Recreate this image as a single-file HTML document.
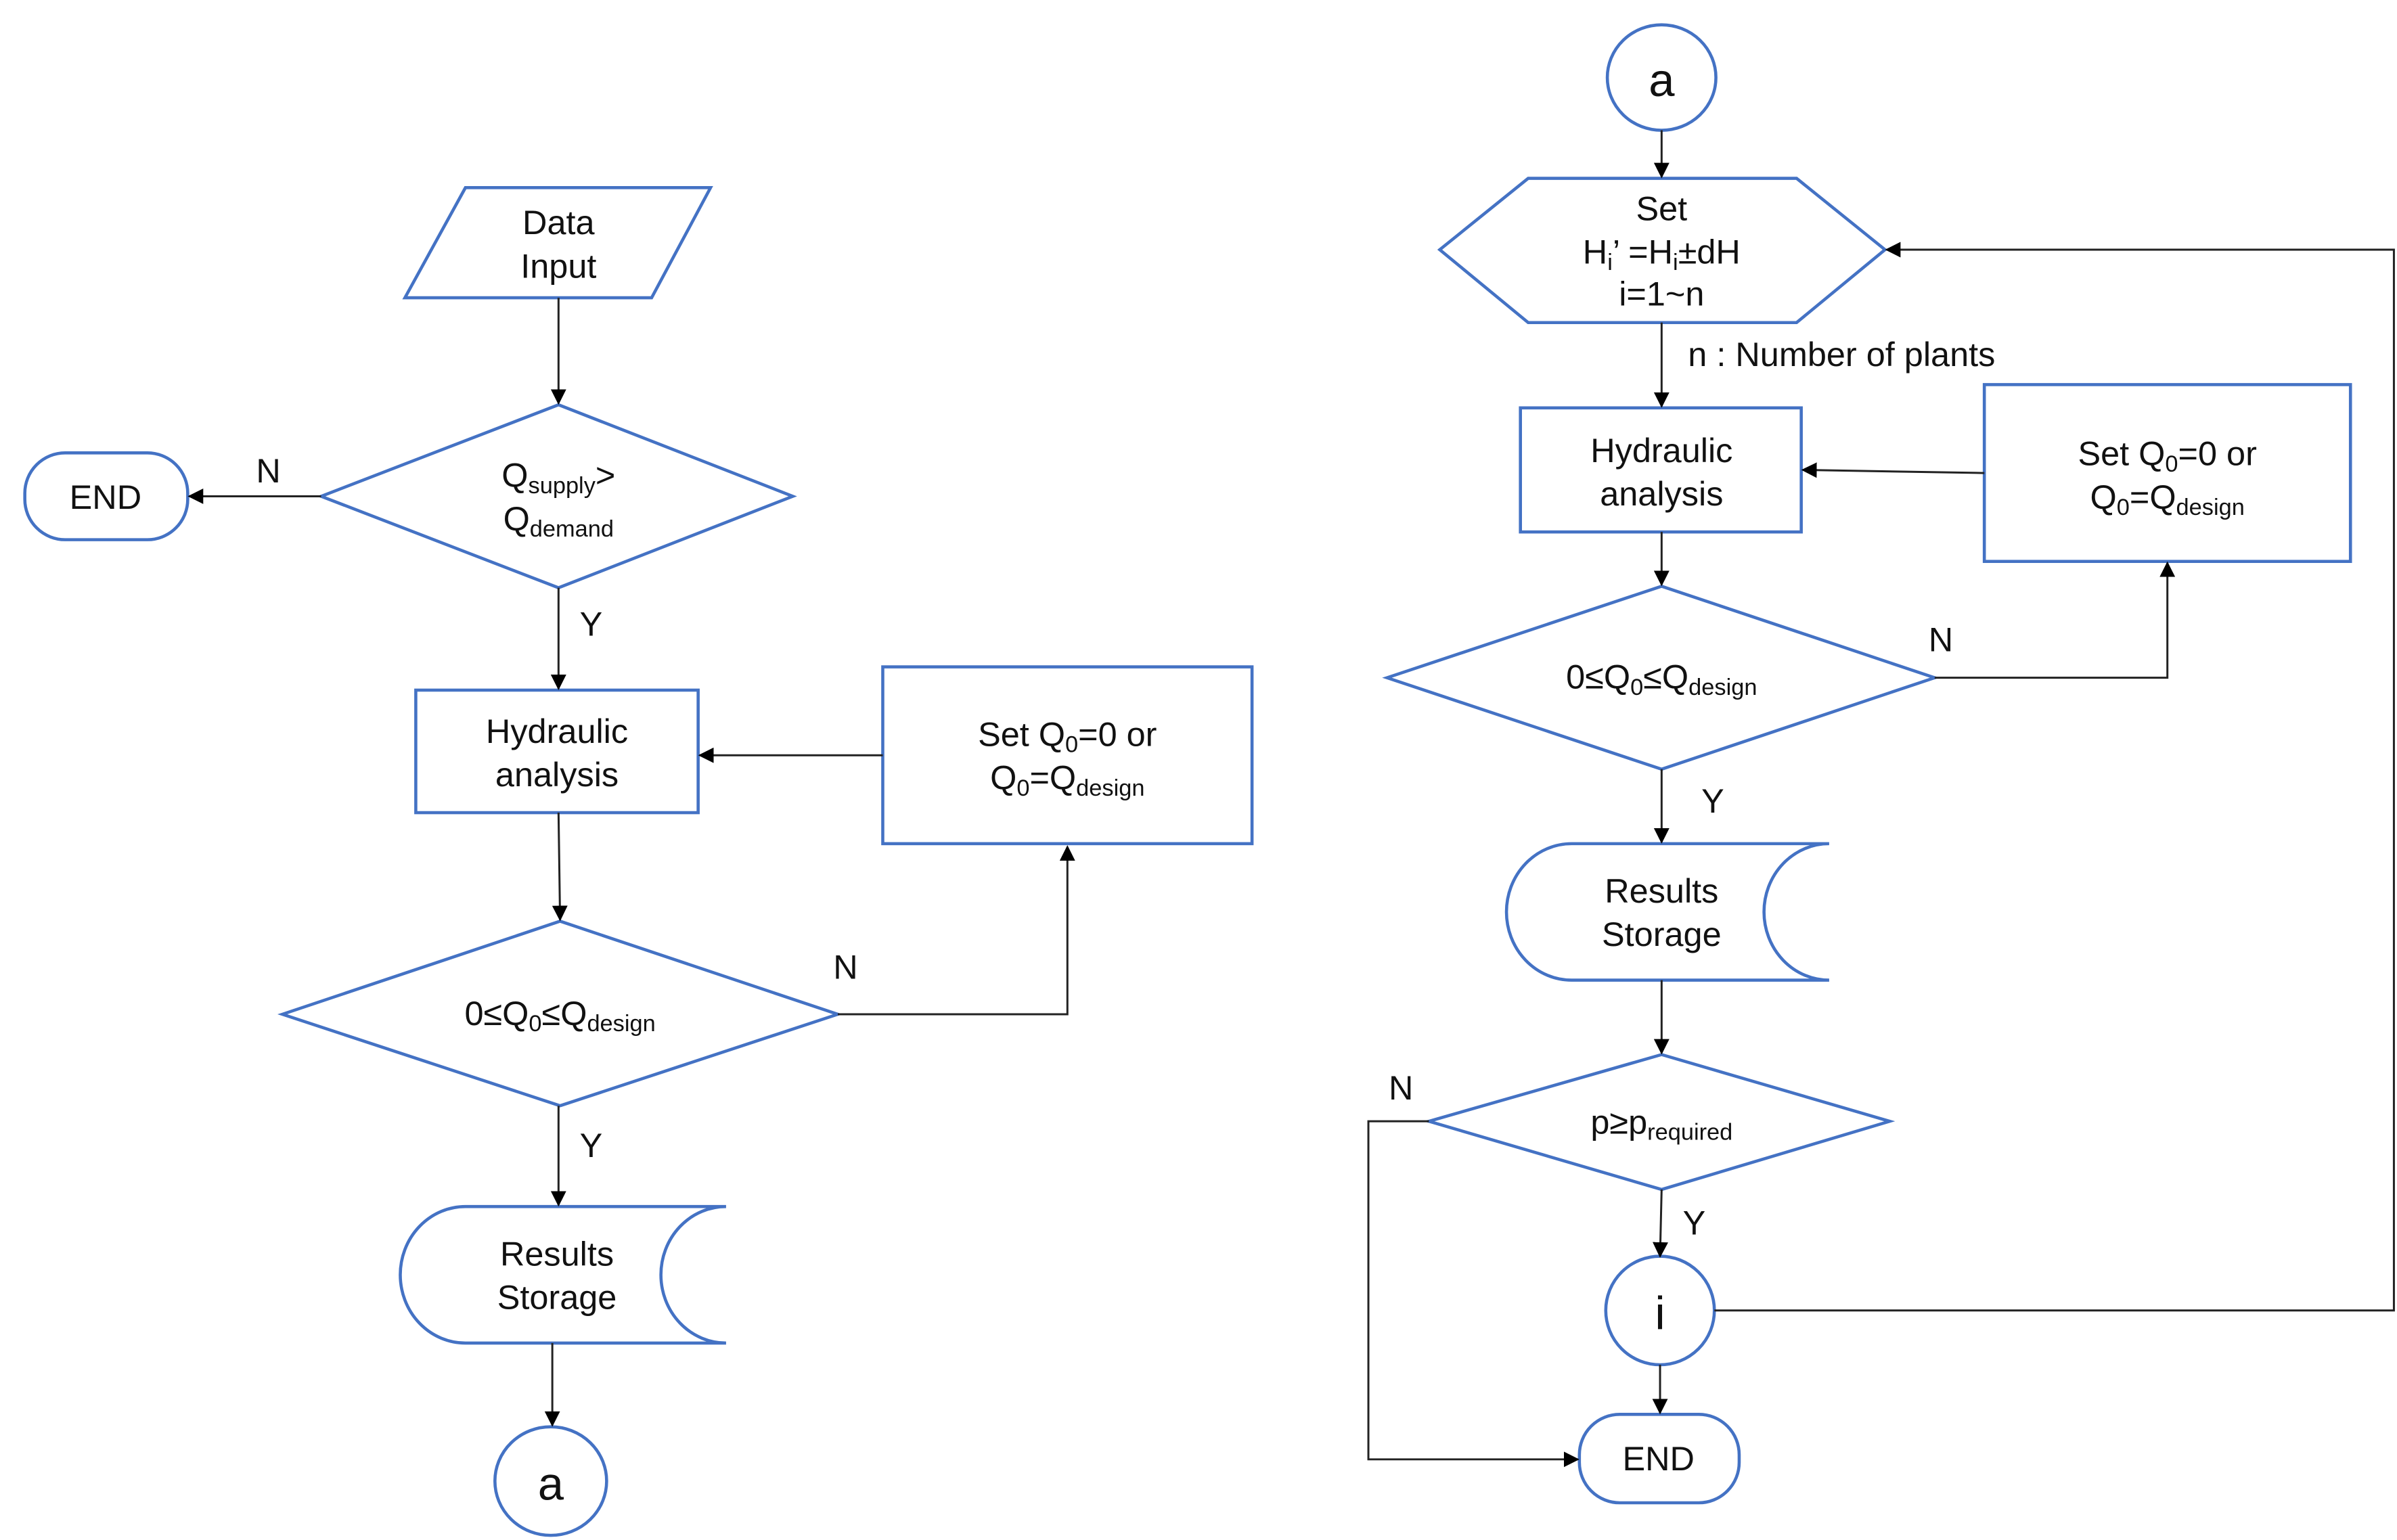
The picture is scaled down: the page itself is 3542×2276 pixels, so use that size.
<!DOCTYPE html>
<html><head><meta charset="utf-8"><style>
html,body{margin:0;padding:0;background:#fff;}
svg{display:block;}
text{font-family:"Liberation Sans","DejaVu Sans",sans-serif;fill:#111;}
</style></head><body>
<svg width="3542" height="2276" viewBox="0 0 1545 993" preserveAspectRatio="none" xmlns="http://www.w3.org/2000/svg">
<defs>
<marker id="ah" markerWidth="10" markerHeight="10" refX="9" refY="5" orient="auto" markerUnits="userSpaceOnUse">
<path d="M0,0 L10,5 L0,10 z" fill="#000"/></marker>
</defs>
<g fill="#fff" stroke="#4472C4" stroke-width="2">
<!-- Left -->
<polygon points="300,121 458,121 420,192 261,192"/>
<polygon points="207,320 360,261 511,320 360,379"/>
<rect x="16" y="292" width="105" height="56" rx="26"/>
<rect x="268" y="445" width="182" height="79"/>
<rect x="569" y="430" width="238" height="114"/>
<polygon points="182,654 361,594 540,654 361,713"/>
<path d="M300,778 H468 A42,44 0 0 0 468,866 H300 A42,44 0 0 1 300,778 Z"/>
<ellipse cx="355" cy="955" rx="36" ry="35"/>
<!-- Right -->
<ellipse cx="1071" cy="50" rx="35" ry="34"/>
<polygon points="928,161 985,115 1158,115 1215,161 1158,208 985,208"/>
<rect x="980" y="263" width="181" height="80"/>
<rect x="1279" y="248" width="236" height="114"/>
<polygon points="894,437 1071,378 1247,437 1071,496"/>
<path d="M1013,544 H1179 A42,44 0 0 0 1179,632 H1013 A42,44 0 0 1 1013,544 Z"/>
<polygon points="921,723 1071,680 1218,723 1071,767"/>
<ellipse cx="1070" cy="845" rx="35" ry="35"/>
<rect x="1018" y="912" width="103" height="57" rx="26"/>
</g>
<g fill="none" stroke="#222" stroke-width="1.3">
<line x1="360" y1="192" x2="360" y2="260" marker-end="url(#ah)"/>
<line x1="207" y1="320" x2="122" y2="320" marker-end="url(#ah)"/>
<line x1="360" y1="379" x2="360" y2="444" marker-end="url(#ah)"/>
<line x1="569" y1="487" x2="451" y2="487" marker-end="url(#ah)"/>
<line x1="360" y1="524" x2="361" y2="593" marker-end="url(#ah)"/>
<polyline points="540,654 688,654 688,546" marker-end="url(#ah)"/>
<line x1="360" y1="713" x2="360" y2="777" marker-end="url(#ah)"/>
<line x1="356" y1="866" x2="356" y2="919" marker-end="url(#ah)"/>
<line x1="1071" y1="84" x2="1071" y2="114" marker-end="url(#ah)"/>
<line x1="1071" y1="208" x2="1071" y2="262" marker-end="url(#ah)"/>
<line x1="1279" y1="305" x2="1162" y2="303" marker-end="url(#ah)"/>
<line x1="1071" y1="343" x2="1071" y2="377" marker-end="url(#ah)"/>
<polyline points="1247,437 1397,437 1397,363" marker-end="url(#ah)"/>
<line x1="1071" y1="496" x2="1071" y2="543" marker-end="url(#ah)"/>
<line x1="1071" y1="632" x2="1071" y2="679" marker-end="url(#ah)"/>
<polyline points="921,723 882,723 882,941 1017,941" marker-end="url(#ah)"/>
<line x1="1071" y1="767" x2="1070" y2="810" marker-end="url(#ah)"/>
<polyline points="1105,845 1543,845 1543,161 1216,161" marker-end="url(#ah)"/>
<line x1="1070" y1="880" x2="1070" y2="911" marker-end="url(#ah)"/>
</g>
<g font-size="22" text-anchor="middle">
<text x="360" y="151">Data</text>
<text x="360" y="179">Input</text>
<text x="360" y="314">Q<tspan font-size="15" dy="4">supply</tspan><tspan dy="-4">&gt;</tspan></text>
<text x="360" y="342">Q<tspan font-size="15" dy="4">demand</tspan></text>
<text x="68" y="328">END</text>
<text x="173" y="311">N</text>
<text x="381" y="410">Y</text>
<text x="359" y="479">Hydraulic</text>
<text x="359" y="507">analysis</text>
<text x="688" y="481">Set Q<tspan font-size="15" dy="4">0</tspan><tspan dy="-4">=0 or</tspan></text>
<text x="688" y="509">Q<tspan font-size="15" dy="4">0</tspan><tspan dy="-4">=Q</tspan><tspan font-size="15" dy="4">design</tspan></text>
<text x="361" y="661">0≤Q<tspan font-size="15" dy="4">0</tspan><tspan dy="-4">≤Q</tspan><tspan font-size="15" dy="4">design</tspan></text>
<text x="545" y="631">N</text>
<text x="381" y="746">Y</text>
<text x="359" y="816">Results</text>
<text x="359" y="844">Storage</text>
<text x="355" y="967" font-size="30">a</text>

<text x="1071" y="62" font-size="30">a</text>
<text x="1071" y="142">Set</text>
<text x="1071" y="170">H<tspan font-size="15" dy="4">i</tspan><tspan dy="-4">’   =H</tspan><tspan font-size="15" dy="4">i</tspan><tspan dy="-4">±dH</tspan></text>
<text x="1071" y="197">i=1~n</text>
<text x="1088" y="236" text-anchor="start">n : Number of plants</text>
<text x="1071" y="298">Hydraulic</text>
<text x="1071" y="326">analysis</text>
<text x="1397" y="300">Set Q<tspan font-size="15" dy="4">0</tspan><tspan dy="-4">=0 or</tspan></text>
<text x="1397" y="328">Q<tspan font-size="15" dy="4">0</tspan><tspan dy="-4">=Q</tspan><tspan font-size="15" dy="4">design</tspan></text>
<text x="1071" y="444">0≤Q<tspan font-size="15" dy="4">0</tspan><tspan dy="-4">≤Q</tspan><tspan font-size="15" dy="4">design</tspan></text>
<text x="1251" y="420">N</text>
<text x="1104" y="524">Y</text>
<text x="1071" y="582">Results</text>
<text x="1071" y="610">Storage</text>
<text x="1071" y="731">p≥p<tspan font-size="15" dy="4">required</tspan></text>
<text x="903" y="709">N</text>
<text x="1092" y="796">Y</text>
<text x="1070" y="857" font-size="30">i</text>
<text x="1069" y="948">END</text>
</g>
</svg>
</body></html>
